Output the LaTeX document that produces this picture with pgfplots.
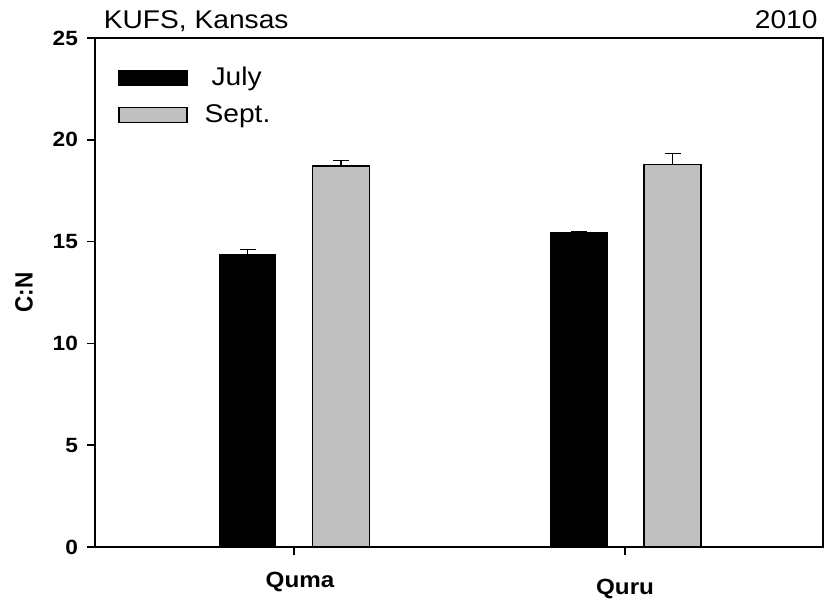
\documentclass[border=0pt]{standalone}
\usepackage{fontspec}
\setmainfont[FakeStretch=1.1]{Liberation Sans}
\newfontfamily\ylabfont[FakeStretch=0.9]{Liberation Sans}
\usepackage{pgfplots}
\pgfplotsset{compat=1.18}
\definecolor{septgray}{HTML}{C0C0C0}
\pgfplotsset{boxlegend/.style={legend image code/.code={\draw[##1, line width=0.6pt] (0pt,-3.75pt) rectangle (34pt,3.75pt);}}}
\begin{document}
\begin{tikzpicture}
\path[use as bounding box] (0,0) rectangle (412pt,301pt);
\begin{axis}[
  scale only axis,
  clip=false,
  width=364pt, height=254.5pt,
  at={(47.5pt,27.5pt)}, anchor=south west,
  xmin=0.3988, xmax=2.598,
  ymin=0, ymax=25,
  xtick={1,2},
  xticklabels={{\hspace*{6pt}Quma},{\raisebox{-3.5pt}[\height]{Quru}}},
  ytick={0,5,10,15,20,25},
  tick align=outside,
  major tick length=4pt,
  xtick pos=bottom, ytick pos=left,
  axis line style={line width=0.8pt},
  tick style={line width=0.8pt, black},
  /pgf/number format/assume math mode=true,
  yticklabel style={font=\fontsize{10.3}{11}\selectfont\bfseries, xshift=-1pt},
  xticklabel style={font=\fontsize{11}{12}\selectfont\bfseries, yshift=-5pt},
  ylabel={C:N},
  ylabel style={font=\ylabfont\fontsize{12.5}{14}\selectfont\bfseries, at={(axis description cs:-0.0975,0.5)}, anchor=center},
  legend style={draw=none, fill=none, at={(axis description cs:0.0316,0.944)}, anchor=north west,
    inner sep=0pt, nodes={inner sep=0pt}, font=\fontsize{12.8}{14}\selectfont, row sep=8pt},
  legend cell align=left,
]
\addplot[ybar, bar width=0.172, bar shift=0pt, fill=black, draw=black, line width=0.5pt, boxlegend,
  error bars/.cd, y dir=plus, y explicit, error mark=-,
  error bar style={black, line width=0.6pt},
  error mark options={rotate=90, black, line width=0.6pt, mark size=4pt}]
  coordinates {(0.8595,14.39) +- (0,0.23) (1.861,15.44) +- (0,0.03)};
\addlegendentry{\hspace*{12pt}July}
\addplot[ybar, bar width=0.172, bar shift=0pt, fill=septgray, draw=black, line width=0.6pt, boxlegend,
  error bars/.cd, y dir=plus, y explicit, error mark=-,
  error bar style={black, line width=0.6pt},
  error mark options={rotate=90, black, line width=0.6pt, mark size=4pt}]
  coordinates {(1.142,18.71) +- (0,0.28) (2.1435,18.78) +- (0,0.56)};
\addlegendentry{\hspace*{8.5pt}Sept.}
\node[anchor=base west, inner sep=0pt, font=\fontsize{12.8}{14}\selectfont] at (axis description cs:0.0116,1.0196) {KUFS, Kansas};
\node[anchor=base east, inner sep=0pt, font=\fontsize{12.8}{14}\selectfont] at (axis description cs:0.993,1.0196) {2010};
\end{axis}
\end{tikzpicture}
\end{document}
